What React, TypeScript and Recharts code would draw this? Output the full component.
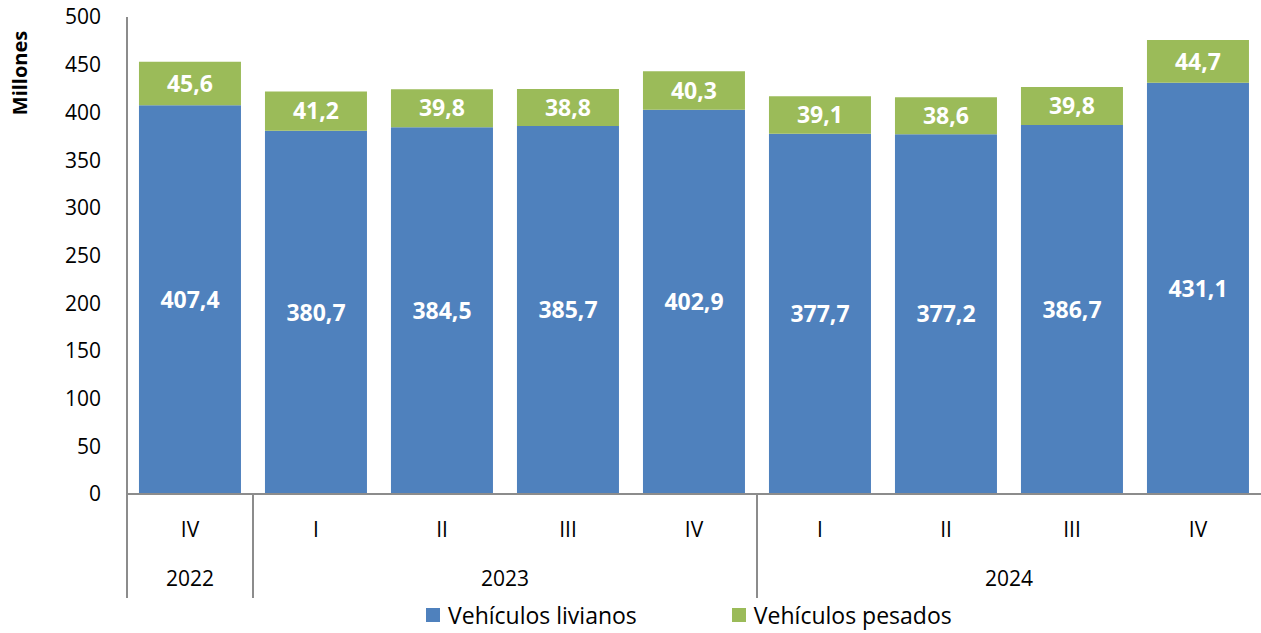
import React from "react";
import { BarChart, Bar, XAxis, YAxis, LabelList, Legend } from "recharts";

const quarters = ["IV", "I", "II", "III", "IV", "I", "II", "III", "IV"];
const livianos = [407.4, 380.7, 384.5, 385.7, 402.9, 377.7, 377.2, 386.7, 431.1];
const pesados = [45.6, 41.2, 39.8, 38.8, 40.3, 39.1, 38.6, 39.8, 44.7];
const years = ["2022", "2023", "2024"];
const yearStarts = [0, 1, 5];
const yTicks = [0, 50, 100, 150, 200, 250, 300, 350, 400, 450, 500];
const seriesNames = ["Vehículos livianos", "Vehículos pesados"];

const BLUE = "#4F81BD";
const GREEN = "#9BBB59";
const AXIS = "#8c8c8c";
const FONT = "'Open Sans', sans-serif";
const FS = 21;

const data = quarters.map((q, i) => ({
  q,
  livianos: livianos[i],
  pesados: pesados[i],
}));

const fmt = (v: any) => Number(v).toFixed(1).replace(".", ",");

const QTick = (props: any) => {
  const { x, y, width, payload } = props;
  const idx = payload.index;
  const band = width / quarters.length;
  const gi = yearStarts.indexOf(idx);
  let extra = null;
  if (gi >= 0) {
    const end = gi + 1 < yearStarts.length ? yearStarts[gi + 1] : quarters.length;
    const size = end - idx;
    const left = x - band / 2;
    extra = (
      <g>
        <line x1={left} x2={left} y1={y} y2={y + 104} stroke={AXIS} strokeWidth={2} />
        <text x={left + (size * band) / 2} y={y + 92} textAnchor="middle" fontSize={FS} fill="#000" fontFamily={FONT}>
          {years[gi]}
        </text>
      </g>
    );
  }
  return (
    <g>
      {extra}
      <text x={x} y={y + 43} textAnchor="middle" fontSize={FS} fill="#000" fontFamily={FONT}>
        {payload.value}
      </text>
    </g>
  );
};

const YLabel = () => (
  <text
    x={22}
    y={73}
    transform="rotate(-90 22 73)"
    textAnchor="middle"
    dominantBaseline="middle"
    fontSize={20}
    fontWeight="bold"
    fill="#000"
    fontFamily={FONT}
  >
    Millones
  </text>
);

const LegendContent = () => (
  <div style={{ display: "flex", alignItems: "center", fontFamily: FONT, fontSize: 23, color: "#000", whiteSpace: "nowrap" }}>
    {seriesNames.map((n, i) => (
      <div key={n} style={{ display: "flex", alignItems: "center", marginRight: i === 0 ? 95 : 0 }}>
        <div style={{ width: 14, height: 14, background: i === 0 ? BLUE : GREEN, marginRight: 8 }} />
        <span>{n}</span>
      </div>
    ))}
  </div>
);

export default function App() {
  return (
    <div style={{ position: "absolute", left: 0, top: 0, width: 1261, height: 633, background: "#fff", fontFamily: FONT }}>
      <BarChart
        width={1261}
        height={633}
        data={data}
        margin={{ top: 17, right: 0, bottom: 138, left: 0 }}
        barCategoryGap="9.5%"
      >
        <XAxis
          dataKey="q"
          height={1}
          interval={0}
          axisLine={{ stroke: AXIS, strokeWidth: 2 }}
          tickLine={false}
          tickSize={0}
          tickMargin={0}
          tick={<QTick />}
        />
        <YAxis
          domain={[0, 500]}
          ticks={yTicks}
          interval={0}
          width={127}
          axisLine={{ stroke: AXIS, strokeWidth: 2 }}
          tickLine={false}
          tickSize={0}
          tickMargin={26}
          tick={{ fontSize: FS, fill: "#000", fontFamily: FONT }}
          label={{ content: () => <YLabel /> }}
        />
        <Legend
          verticalAlign="middle"
          wrapperStyle={{ top: 599, left: 426, width: "auto" }}
          content={() => <LegendContent />}
        />
        <Bar dataKey="livianos" stackId="a" fill={BLUE} isAnimationActive={false}>
          <LabelList dataKey="livianos" position="center" formatter={fmt} fill="#fff" fontSize={23} fontWeight="bold" fontFamily={FONT} />
        </Bar>
        <Bar dataKey="pesados" stackId="a" fill={GREEN} isAnimationActive={false}>
          <LabelList dataKey="pesados" position="center" formatter={fmt} fill="#fff" fontSize={23} fontWeight="bold" fontFamily={FONT} />
        </Bar>
      </BarChart>
    </div>
  );
}
